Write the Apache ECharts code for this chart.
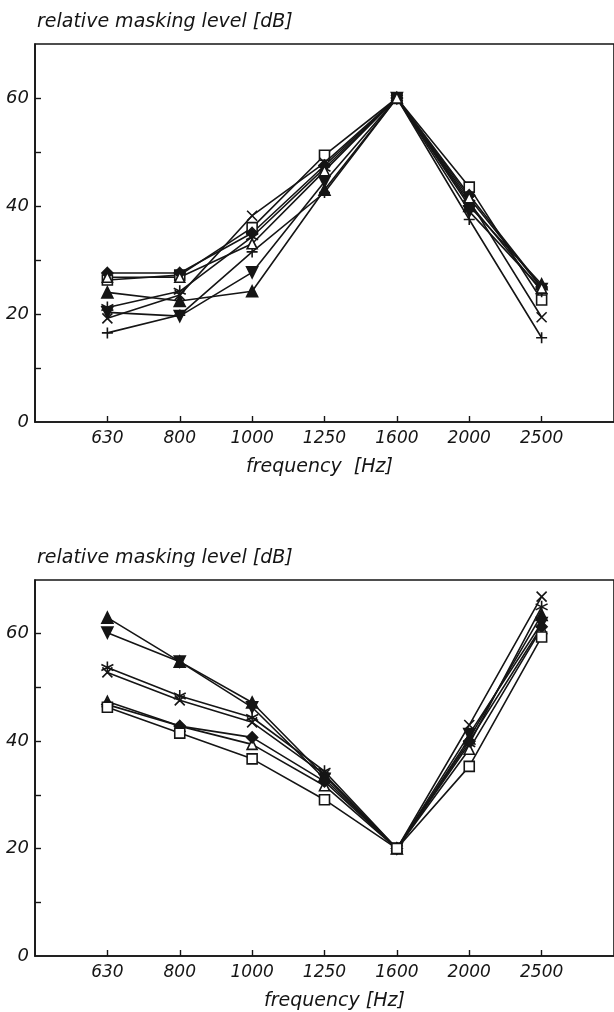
<!DOCTYPE html>
<html>
<head>
<meta charset="utf-8">
<script src="https://cdn.jsdelivr.net/npm/echarts@6/dist/echarts.min.js"></script>
<style>
  html, body { margin: 0; padding: 0; background: #fff; }
  #chart { width: 614px; height: 1012px; }
</style>
</head>
<body>
<div id="chart"></div>
<script>
// frequency categories, placed at 1..7 on a value axis so the first one sits one step off the y axis
const freqLabels = ["630", "800", "1000", "1250", "1600", "2000", "2500"];
const yLabels = [0, 20, 40, 60];

// upper panel, relative masking level [dB]
const topSquare   = [26.3, 27.2, 36.0, 49.4, 60, 43.5, 22.6];
const topDiamond  = [27.6, 27.6, 35.0, 47.5, 60, 42.0, 25.0];
const topUp       = [24.0, 22.4, 24.2, 43.0, 60, 40.0, 25.5];
const topDown     = [20.3, 19.6, 27.7, 44.5, 60, 39.0, 24.6];
const topCross    = [19.2, 23.5, 38.2, 48.0, 60, 41.0, 19.4];
const topPlus     = [16.5, 19.8, 31.5, 42.5, 60, 37.5, 15.6];
const topStar     = [21.2, 24.2, 34.3, 47.0, 60, 40.5, 24.2];
const topOpenTri  = [26.8, 26.8, 33.0, 46.5, 60, 41.5, 24.8];

// lower panel
const botUp       = [63.0, 54.8, 47.2, 33.5, 20, 40.5, 63.5];
const botDown     = [60.2, 54.8, 46.3, 33.0, 20, 41.3, 62.0];
const botStar     = [53.7, 48.4, 44.4, 34.4, 20, 39.5, 65.0];
const botCross    = [52.8, 47.6, 43.5, 33.8, 20, 43.0, 66.9];
const botOpenTri  = [47.4, 42.8, 39.4, 31.7, 20, 38.5, 61.0];
const botDiamond  = [46.8, 42.8, 40.7, 32.5, 20, 40.0, 61.3];
const botSquare   = [46.3, 41.5, 36.7, 29.1, 20, 35.3, 59.4];

const ink = "#151515";
const font = "'DejaVu Sans', sans-serif";

const marks = {
  square: { symbol: "rect", size: 10, fill: "#fff" },
  diamond: { symbol: "diamond", size: 11, fill: ink },
  up: { symbol: "triangle", size: 11, fill: ink },
  down: { symbol: "triangle", size: 11, fill: ink, rotate: 180 },
  openTri: { symbol: "triangle", size: 10, fill: "#fff" },
  cross: { symbol: "path://M0,0 L10,10 M10,0 L0,10", size: 10, fill: "none" },
  plus: { symbol: "path://M5,0 L5,10 M0,5 L10,5", size: 11, fill: "none" },
  star: { symbol: "path://M5,0 L5,10 M0.7,2.5 L9.3,7.5 M0.7,7.5 L9.3,2.5", size: 12, fill: "none" }
};

const toPoints = vals => vals.map((v, i) => [i + 1, v]);

const line = (values, mark, gridIndex) => ({
  type: "line",
  xAxisIndex: gridIndex,
  yAxisIndex: gridIndex,
  data: toPoints(values),
  symbol: marks[mark].symbol,
  symbolSize: marks[mark].size,
  symbolRotate: marks[mark].rotate || 0,
  lineStyle: { color: ink, width: 1.6 },
  itemStyle: { color: marks[mark].fill, borderColor: ink, borderWidth: 1.6 },
  showSymbol: true,
  animation: false,
  z: 3
});

const textStyle = { color: ink, fontFamily: font, fontStyle: "italic", fontSize: 17 };

const xAxis = gridIndex => ({
  type: "value",
  gridIndex,
  min: 0,
  max: 8,
  interval: 1,
  name: gridIndex === 0 ? "frequency  [Hz]" : "frequency [Hz]",
  nameLocation: "middle",
  nameGap: 36,
  nameTextStyle: { ...textStyle, fontSize: 19, padding: gridIndex === 0 ? [0, 10, 0, 0] : [0, 0, 0, 20] },
  axisLine: { lineStyle: { color: ink, width: 1.6 } },
  axisTick: { inside: true, length: 6, lineStyle: { color: ink, width: 1.4 }, customValues: [1, 2, 3, 4, 5, 6, 7] },
  axisLabel: { ...textStyle, margin: 8, customValues: [1, 2, 3, 4, 5, 6, 7], formatter: v => freqLabels[v - 1] || "" },
  splitLine: { show: false }
});

const yAxis = gridIndex => ({
  type: "value",
  gridIndex,
  min: 0,
  max: 70,
  interval: 10,
  name: "relative masking level [dB]",
  nameLocation: "end",
  nameGap: 12,
  nameTextStyle: { ...textStyle, fontSize: 19, align: "left", verticalAlign: "bottom", padding: [0, 0, 0, 2] },
  axisLine: { lineStyle: { color: ink, width: 1.6 } },
  axisTick: { inside: true, length: 6, lineStyle: { color: ink, width: 1.4 }, customValues: [10, 20, 30, 40, 50, 60] },
  axisLabel: { ...textStyle, fontSize: 18, margin: 6, customValues: yLabels },
  splitLine: { show: false }
});

const chart = echarts.init(document.getElementById("chart"), null, { renderer: "canvas" });
chart.setOption({
  backgroundColor: "#fff",
  animation: false,
  grid: [
    { left: 35, top: 44, width: 584, height: 378, show: true, borderColor: ink, borderWidth: 1.6 },
    { left: 35, top: 580, width: 584, height: 378, show: true, borderColor: ink, borderWidth: 1.6 }
  ],
  xAxis: [xAxis(0), xAxis(1)],
  yAxis: [yAxis(0), yAxis(1)],
  series: [
    line(topSquare, "square", 0),
    line(topDiamond, "diamond", 0),
    line(topUp, "up", 0),
    line(topDown, "down", 0),
    line(topCross, "cross", 0),
    line(topPlus, "plus", 0),
    line(topStar, "star", 0),
    line(topOpenTri, "openTri", 0),
    line(botUp, "up", 1),
    line(botDown, "down", 1),
    line(botStar, "star", 1),
    line(botCross, "cross", 1),
    line(botOpenTri, "openTri", 1),
    line(botDiamond, "diamond", 1),
    line(botSquare, "square", 1)
  ]
});
</script>
</body>
</html>
